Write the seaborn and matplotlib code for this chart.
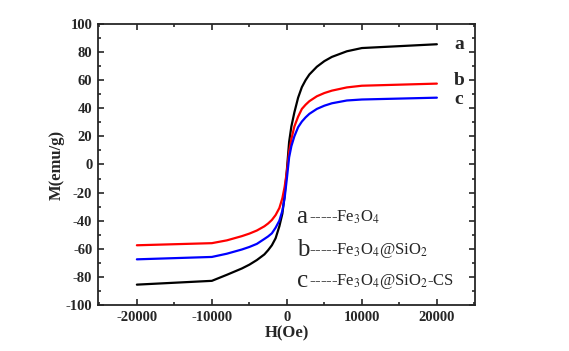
import numpy as np
import pandas as pd
import matplotlib
matplotlib.use("Agg")
import matplotlib.pyplot as plt
import seaborn as sns

# 자기장 H (Oe)
field = [-20000, -10000, -8000, -6000, -5000, -4000, -3000, -2500, -2000, -1500, -1000, -600, -300, 0,
         300, 600, 1000, 1500, 2000, 2500, 3000, 4000, 5000, 6000, 8000, 10000, 20000]
# 자화 M (emu/g)
m_a = [-85.5, -82.8, -78.5, -74, -71.3, -68, -64, -61, -57.5, -52.5, -44, -35, -22, -4,
       16, 27, 37, 47.5, 55, 60, 64, 69.5, 73.5, 76.5, 80.5, 82.8, 85.5]
m_b = [-57.5, -56, -54, -51, -49.2, -47, -44, -42, -39.5, -36, -31, -24, -16, -5,
       9, 18, 27, 34, 39.5, 42.5, 45, 48.5, 50.8, 52.5, 54.8, 56, 57.5]
m_c = [-67.5, -65.8, -63.5, -60.5, -58.7, -56.5, -53, -51.2, -49, -45, -40, -33, -24, -10,
       5, 13, 20, 26.5, 30.5, 33.5, 36, 39.5, 41.8, 43.5, 45.5, 46.2, 47.5]
samples = ['a', 'b', 'c']
names = ['Fe$_3$O$_4$', 'Fe$_3$O$_4$@SiO$_2$', 'Fe$_3$O$_4$@SiO$_2$-CS']

df = pd.DataFrame({
    'H': field * 3,
    'M': m_a + m_b + m_c,
    'sample': ['a'] * len(field) + ['b'] * len(field) + ['c'] * len(field),
})

sns.set_style("ticks")
plt.rcParams['font.family'] = ['Liberation Serif', 'DejaVu Serif']
plt.rcParams['mathtext.fontset'] = 'stix'
plt.rcParams['axes.unicode_minus'] = False

fig = plt.figure(figsize=(5.69, 3.51), dpi=100)
ax = fig.add_axes([0.172, 0.131, 0.663, 0.801])

sns.lineplot(data=df, x='H', y='M', hue='sample', palette=['black', 'red', 'blue'],
             linewidth=1.6, legend=False, ax=ax, sort=True)

ax.set_xlim(-25200, 25100)
ax.set_ylim(-100, 100)
ax.set_xticks([-20000, -10000, 0, 10000, 20000])
ax.set_xticks([-25000, -15000, -5000, 5000, 15000, 25000], minor=True)
ax.set_yticks(np.arange(-100, 101, 20))
ax.set_yticks(np.arange(-90, 100, 20), minor=True)
ax.tick_params(which='both', direction='in', top=True, right=True, width=1.2)
ax.tick_params(which='major', length=4, labelsize=10.5, pad=4)
ax.tick_params(which='minor', length=2.5)
for lab in ax.get_xticklabels() + ax.get_yticklabels():
    lab.set_fontweight('bold')
for sp in ax.spines.values():
    sp.set_linewidth(1.3)

ax.set_xlabel('H(Oe)', fontsize=12, fontweight='bold', labelpad=1)
ax.set_ylabel('M(emu/g)', fontsize=12, fontweight='bold', labelpad=1)

# 곡선 끝 라벨
for s, y in zip(samples, [85.5, 60, 46]):
    ax.text(22300, y, s, fontsize=14, fontweight='bold', va='center', ha='left', clip_on=False)

# 범례 텍스트
for s, n, y in zip(samples, names, [-37.5, -61, -83]):
    ax.text(1300, y, s, fontsize=18, va='center', ha='left')
    ax.text(3000, y, '-----' + n, fontsize=12, va='center', ha='left')

fig.savefig('out.png', dpi=100)
